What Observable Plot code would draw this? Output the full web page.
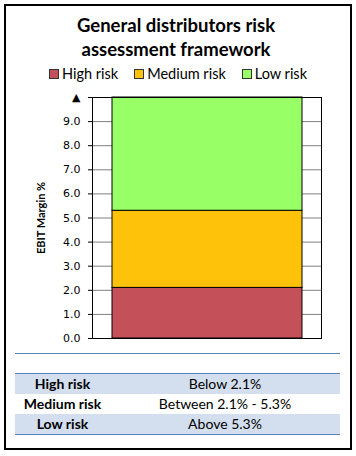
<!DOCTYPE html>
<html>
<head>
<meta charset="utf-8">
<script src="https://cdn.jsdelivr.net/npm/d3@7"></script>
<script src="https://cdn.jsdelivr.net/npm/@observablehq/plot@0.6"></script>
<style>
  html, body { margin: 0; padding: 0; background: #fff; }
  #page { position: relative; width: 356px; height: 456px; overflow: hidden; font-family: Lato, "Open Sans", sans-serif; }
  #box { position: absolute; left: 4px; top: 4px; width: 348px; height: 446px; box-sizing: border-box; border: 2px solid #000; }
  .title { position: absolute; left: 0; width: 352px; text-align: center; font-weight: bold; font-size: 18.5px; color: #000; line-height: 1; }
  #legend { position: absolute; top: 66px; left: 0; width: 356px; display: flex; justify-content: center; font-size: 14.5px; line-height: 16px; }
  #legend .item { display: flex; align-items: center; margin: 0 8px; }
  #legend .sw { width: 8px; height: 8px; border: 1px solid #333; margin-right: 3px; }
  #chart { position: absolute; left: 0; top: 85px; }
  #chart svg [aria-label="y-axis"] line { stroke: #808080; }
  #sep { position: absolute; left: 15px; top: 353px; width: 325px; height: 0; border-top: 1px solid #5b82bd; }
  #tbl { position: absolute; left: 15px; top: 373px; width: 325px; border-collapse: collapse; font-size: 14px; }
  #tbl td { height: 20px; padding: 0; text-align: center; line-height: 20px; }
  #tbl tr.shade td { background: #d3deef; }
  #tbl tr:first-child td { border-top: 1.5px solid #5b82bd; }
  #tbl tr:last-child td { border-bottom: 1.5px solid #5b82bd; }
  #tbl td.k { font-weight: bold; width: 95px; }
</style>
</head>
<body>
<div id="page">
  <div id="box"></div>
  <div class="title" style="top:16px">General distributors risk</div>
  <div class="title" style="top:40px">assessment framework</div>
  <div id="legend"></div>
  <div id="chart"></div>
  <div id="sep"></div>
  <table id="tbl"></table>
</div>
<script>
// ---- data ----
const riskLevels = ["High risk", "Medium risk", "Low risk"];
const bandLow = [0, 2.1, 5.3];
const bandHigh = [2.1, 5.3, 10];
const riskColors = ["#c4505a", "#ffc20a", "#99ff66"];
const yTicks = [0, 1, 2, 3, 4, 5, 6, 7, 8, 9, 10];
const yLabel = "EBIT Margin %";
const tableRanges = ["Below 2.1%", "Between 2.1% - 5.3%", "Above 5.3%"];
const category = ["EBIT"];

const bands = riskLevels.map((r, i) => ({cat: category[0], risk: r, lo: bandLow[i], hi: bandHigh[i]}));

// legend
const legend = document.getElementById("legend");
riskLevels.forEach((r, i) => {
  const it = document.createElement("div");
  it.className = "item";
  it.innerHTML = `<span class="sw" style="background:${riskColors[i]}"></span><span>${r}</span>`;
  legend.appendChild(it);
});

// table
const tbl = document.getElementById("tbl");
riskLevels.forEach((r, i) => {
  const tr = document.createElement("tr");
  if (i % 2 === 0) tr.className = "shade";
  tr.innerHTML = `<td class="k">${r}</td><td>${tableRanges[i]}</td>`;
  tbl.appendChild(tr);
});

const chart = Plot.plot({
  width: 356,
  height: 260,
  marginLeft: 92,
  marginRight: 35,
  marginTop: 12,
  marginBottom: 7,
  style: {fontFamily: "DejaVu Sans", fontSize: "11px", background: "transparent", color: "#000"},
  x: {type: "band", domain: category, padding: 0.093, axis: null},
  y: {
    domain: [0, 10],
    ticks: yTicks,
    tickSize: 4,
    tickPadding: 8,
    tickFormat: d => d === 10 ? "▲" : d.toFixed(1),
    label: yLabel,
    labelAnchor: "center",
    labelOffset: 55
  },
  color: {domain: riskLevels, range: riskColors},
  marks: [
    Plot.ruleY(yTicks, {stroke: "#808080", strokeWidth: 1}),
    Plot.barY(bands, {x: "cat", y1: "lo", y2: "hi", fill: "risk", stroke: "#000", strokeWidth: 1}),
    Plot.frame({stroke: "#000"})
  ]
});
document.getElementById("chart").appendChild(chart);
// axis label: bold, no arrow
d3.select(chart).selectAll("text").filter(function(){ return this.textContent.startsWith(yLabel); })
  .text(yLabel)
  .attr("font-weight", "bold").attr("font-size", "11px").attr("font-family", "Lato, sans-serif");
</script>
</body>
</html>
